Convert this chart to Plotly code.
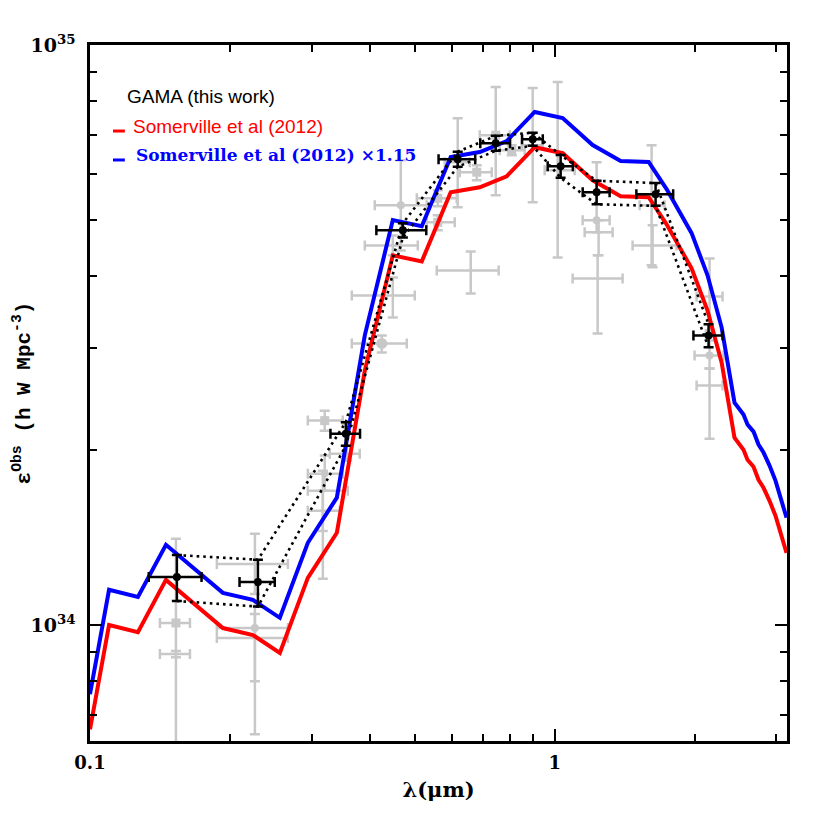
import plotly.graph_objects as go

E34 = 1e34

# ---------------- model curves (Somerville et al 2012) ----------------
model_lam = [0.1, 0.1099, 0.1268, 0.1457, 0.1932, 0.2242, 0.2562, 0.2943, 0.3398,
             0.3903, 0.4484, 0.5176, 0.5974, 0.6899, 0.7886, 0.9058, 1.0404,
             1.2071, 1.3868, 1.5933, 1.7412, 1.971, 2.133, 2.287, 2.438, 2.549,
             2.600, 2.679, 2.746, 2.815, 2.900, 2.987, 3.155]
model_red = [0.661, 1.000, 0.972, 1.196, 0.988, 0.961, 0.895, 1.206, 1.442,
             2.746, 4.338, 4.236, 5.573, 5.685, 5.939, 6.665, 6.508,
             5.845, 5.486, 5.464, 4.908, 4.120, 3.485, 2.835, 2.103, 2.005,
             1.927, 1.874, 1.780, 1.724, 1.637, 1.543, 1.331]
model_blue = [0.760, 1.150, 1.118, 1.375, 1.136, 1.105, 1.029, 1.386, 1.658,
              3.158, 4.989, 4.871, 6.409, 6.538, 6.830, 7.665, 7.484,
              6.722, 6.309, 6.284, 5.644, 4.738, 4.008, 3.260, 2.418, 2.306,
              2.216, 2.155, 2.047, 1.983, 1.883, 1.774, 1.531]

# ---------------- GAMA (this work) ----------------
gama_lam = [0.1538, 0.2298, 0.3552, 0.4713, 0.6185, 0.7467, 0.8968, 1.030, 1.231, 1.649, 2.144]
gama_lam_err = [0.020, 0.020, 0.026, 0.058, 0.056, 0.055, 0.046, 0.064, 0.082, 0.150, 0.155]
gama_y = [1.210, 1.186, 2.137, 4.792, 6.356, 6.772, 6.881, 6.181, 5.573, 5.530, 3.156]
gama_y_err = [0.110, 0.110, 0.100, 0.135, 0.190, 0.200, 0.180, 0.280, 0.260, 0.250, 0.145]

# ---------------- literature compilation (grey) ----------------
lit_lam = [0.1531, 0.1531, 0.2264, 0.2264, 0.2264, 0.3200, 0.3569, 0.3200, 0.3170, 0.3170,
           0.4246, 0.4484, 0.4484, 0.4665, 0.5603, 0.5603, 0.6597, 0.6185, 0.6798, 0.7467,
           0.8083, 0.8968, 1.0150, 1.2311, 1.2433, 1.2372, 1.6246, 1.6167, 2.1544, 2.1544, 2.1544]
lit_lam_lo = [0.1414, 0.1414, 0.1875, 0.1875, 0.1875, 0.2943, 0.3281, 0.2943, 0.2943, 0.2943,
              0.3660, 0.3660, 0.3903, 0.4101, 0.5050, 0.5305, 0.5575, 0.5800, 0.6248, 0.6899,
              0.7615, 0.8497, 0.9517, 1.1487, 1.1602, 1.0932, 1.4713, 1.5233, 2.0204, 2.0002, 2.0204]
lit_lam_hi = [0.1641, 0.1641, 0.2666, 0.2666, 0.2666, 0.3499, 0.3807, 0.3499, 0.3588, 0.3448,
              0.4805, 0.5000, 0.5075, 0.5305, 0.6155, 0.6094, 0.7577, 0.6565, 0.7321, 0.8004,
              0.8619, 0.9424, 1.1042, 1.3131, 1.3326, 1.4003, 1.8295, 1.7241, 2.2977, 2.3090, 2.2977]
lit_y = [1.008, 0.891, 1.274, 0.988, 0.950, 2.251, 1.974, 1.823, 1.704, 1.574,
         3.058, 3.700, 4.513, 5.292, 5.443, 4.946, 4.087, 6.280, 6.035, 6.992,
         6.587, 6.720, 6.083, 4.986, 4.753, 3.959, 4.513, 5.292, 3.686, 2.915, 2.587]
lit_y_lo = [0.497, 0.880, 1.131, 0.800, 0.648, 2.163, 1.920, 1.704, 1.453, 1.201,
            2.950, 3.390, 4.338, 4.424, 5.272, 4.792, 3.730, 5.250, 5.845, 5.508,
            6.457, 5.356, 4.303, 4.753, 4.338, 3.181, 4.137, 4.170, 3.219, 2.768, 2.095]
lit_y_hi = [1.408, 0.902, 1.436, 1.100, 1.045, 2.342, 2.038, 1.959, 1.845, 1.704,
            3.156, 3.975, 4.696, 6.330, 5.618, 5.086, 4.406, 7.480, 6.206, 8.461,
            6.720, 8.427, 8.630, 6.280, 4.986, 4.338, 4.889, 6.720, 4.286, 3.095, 2.768]
lit_symbol = ["square", "none", "none", "circle", "none", "square", "none", "circle", "none", "none",
              "circle", "none", "none", "circle", "square", "square", "none", "none", "square", "square",
              "square", "none", "none", "circle", "none", "none", "none", "none", "none", "circle", "none"]
lit_size = [9, 0, 0, 8, 0, 9, 0, 7, 0, 0,
            11, 0, 0, 8, 9, 9, 0, 0, 9, 9,
            9, 0, 0, 8, 0, 0, 0, 0, 0, 8, 0]

x_tick_major = [0.1, 1]
x_tick_text = ["<b>0.1</b>", "<b>1</b>"]
x_tick_minor = [0.2, 0.3, 0.4, 0.5, 0.6, 0.7, 0.8, 0.9, 2, 3]
y_tick_major = [1e34, 1e35]
y_tick_text = ["<b>10<sup>34</sup></b>", "<b>10<sup>35</sup></b>"]
y_tick_minor = [7e33, 8e33, 9e33, 2e34, 3e34, 4e34, 5e34, 6e34, 7e34, 8e34, 9e34]

GREY = "rgb(200,200,200)"

fig = go.Figure()

# grey literature points
for i in range(len(lit_lam)):
    sym = lit_symbol[i]
    fig.add_trace(go.Scatter(
        x=[lit_lam[i]], y=[lit_y[i] * E34], mode="markers",
        marker=dict(symbol="circle" if sym == "none" else sym,
                    size=lit_size[i] if sym != "none" else 1,
                    color=GREY, opacity=1 if sym != "none" else 0),
        error_x=dict(type="data", symmetric=False,
                     array=[lit_lam_hi[i] - lit_lam[i]], arrayminus=[lit_lam[i] - lit_lam_lo[i]],
                     color=GREY, thickness=2.5, width=5),
        error_y=dict(type="data", symmetric=False,
                     array=[(lit_y_hi[i] - lit_y[i]) * E34], arrayminus=[(lit_y[i] - lit_y_lo[i]) * E34],
                     color=GREY, thickness=2.5, width=5),
        showlegend=False, hoverinfo="skip"))

# model curves
fig.add_trace(go.Scatter(x=model_lam, y=[v * E34 for v in model_red], mode="lines",
                         line=dict(color="rgb(255,0,0)", width=4), showlegend=False))
fig.add_trace(go.Scatter(x=model_lam, y=[v * E34 for v in model_blue], mode="lines",
                         line=dict(color="rgb(0,0,255)", width=4), showlegend=False))

# dotted envelopes through GAMA error limits
dot_style = dict(color="black", width=2.6, dash="2.6px,4px")
fig.add_trace(go.Scatter(x=gama_lam, y=[(v + e) * E34 for v, e in zip(gama_y, gama_y_err)],
                         mode="lines", line=dot_style, showlegend=False))
fig.add_trace(go.Scatter(x=gama_lam, y=[(v - e) * E34 for v, e in zip(gama_y, gama_y_err)],
                         mode="lines", line=dot_style, showlegend=False))

# GAMA points
fig.add_trace(go.Scatter(
    x=gama_lam, y=[v * E34 for v in gama_y], mode="markers",
    marker=dict(symbol="circle", size=8, color="black"),
    error_x=dict(type="data", array=gama_lam_err, color="black", thickness=2.5, width=5),
    error_y=dict(type="data", array=[e * E34 for e in gama_y_err], color="black", thickness=2.5, width=5),
    showlegend=False))

# legend-like annotations
fig.add_annotation(xref="paper", yref="paper", x=0.050, y=0.9253, xanchor="left", yanchor="middle",
                   text="GAMA (this work)", showarrow=False,
                   font=dict(family="Liberation Sans", size=19, color="black"))
fig.add_annotation(xref="paper", yref="paper", x=0.0588, y=0.8836, xanchor="left", yanchor="middle",
                   text="Somerville et al (2012)", showarrow=False,
                   font=dict(family="Liberation Sans", size=19, color="rgb(255,0,0)"))
fig.add_annotation(xref="paper", yref="paper", x=0.0625, y=0.8425, xanchor="left", yanchor="middle",
                   text="<b>Somerville et al (2012) ×1.15</b>", showarrow=False,
                   font=dict(family="DejaVu Serif", size=17, color="rgb(0,0,255)"))
fig.add_shape(type="line", xref="paper", yref="paper", x0=0.033, x1=0.050, y0=0.8764, y1=0.8764,
              line=dict(color="rgb(255,0,0)", width=3))
fig.add_shape(type="line", xref="paper", yref="paper", x0=0.033, x1=0.050, y0=0.8348, y1=0.8348,
              line=dict(color="rgb(0,0,255)", width=3))

# y-axis title (rotated)
fig.add_annotation(xref="paper", yref="paper", x=-0.097, y=0.5, xanchor="center", yanchor="middle",
                   textangle=-90, showarrow=False,
                   text="<b>ε<sup>Obs</sup> (h W Mpc<sup>-3</sup>)</b>",
                   font=dict(family="Liberation Mono", size=21, color="black"))

axis_common = dict(showline=True, linecolor="black", linewidth=2.5, mirror="allticks",
                   ticks="inside", tickcolor="black", tickwidth=2, ticklen=12,
                   showgrid=False, zeroline=False)

fig.update_xaxes(type="log", range=[-1, 0.5], tickvals=x_tick_major, ticktext=x_tick_text,
                 tickfont=dict(family="DejaVu Serif", size=18, color="black"),
                 ticklabelstandoff=4,
                 minor=dict(tickvals=x_tick_minor, ticks="inside", ticklen=7, tickwidth=2,
                            tickcolor="black", showgrid=False),
                 title=dict(text="<b>λ(μm)</b>", font=dict(family="DejaVu Serif", size=21, color="black"),
                            standoff=10),
                 **axis_common)
fig.update_yaxes(type="log", range=[33.8, 35], tickvals=y_tick_major, ticktext=y_tick_text,
                 tickfont=dict(family="DejaVu Serif", size=19, color="black"),
                 ticklabelstandoff=8,
                 minor=dict(tickvals=y_tick_minor, ticks="inside", ticklen=7, tickwidth=2,
                            tickcolor="black", showgrid=False),
                 **axis_common)

fig.update_layout(width=830, height=830, autosize=False,
                  margin=dict(l=82, r=51, t=37, b=97, autoexpand=False),
                  paper_bgcolor="white", plot_bgcolor="white", showlegend=False)

fig.write_html("out.html")
